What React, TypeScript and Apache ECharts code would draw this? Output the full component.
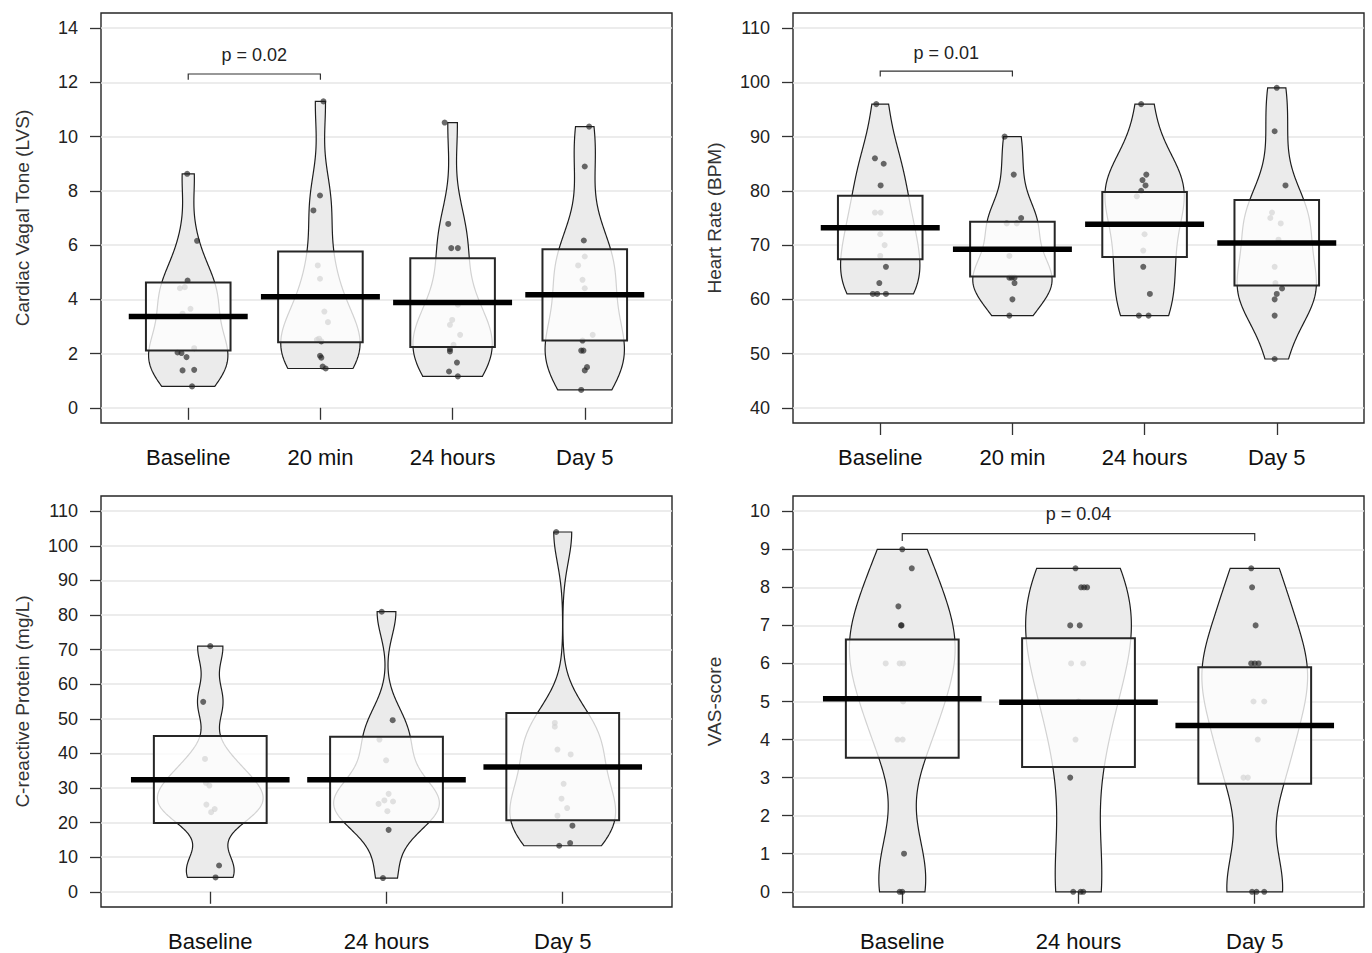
import React, { useEffect, useRef } from "react";
import * as echarts from "echarts";

const FONT = "'Liberation Sans', Arial, Helvetica, sans-serif";

// ---------- categories ----------
const catsFour = ["Baseline", "20 min", "24 hours", "Day 5"];
const catsThree = ["Baseline", "24 hours", "Day 5"];

// ---------- Panel A: Cardiac Vagal Tone (LVS) ----------
const cvtTicks = [0, 2, 4, 6, 8, 10, 12, 14];
const cvtBaseline = [8.63, 6.16, 4.69, 4.41, 4.45, 3.65, 3.47, 2.2, 2.04, 2.02, 1.87, 1.38, 1.4, 0.79];
const cvtBaselineJit = [-0.008, 0.067, -0.005, -0.063, -0.026, 0.017, -0.043, 0.045, -0.081, -0.051, -0.013, -0.043, 0.045, 0.029];
const cvt20min = [11.3, 7.83, 7.28, 5.25, 4.76, 3.55, 3.16, 2.55, 2.51, 2.45, 1.92, 1.85, 1.52, 1.45];
const cvt20minJit = [0.023, -0.003, -0.053, -0.02, -0.003, 0.03, 0.057, -0.01, -0.027, 0.007, -0.003, 0.007, 0.017, 0.04];
const cvt24h = [10.52, 6.78, 5.89, 5.89, 3.8, 3.24, 3.06, 2.69, 2.32, 2.16, 2.08, 1.67, 1.34, 1.16];
const cvt24hJit = [-0.06, -0.033, -0.01, 0.04, 0.04, -0.003, -0.02, 0.057, 0.007, -0.02, -0.02, 0.033, -0.027, 0.04];
const cvtDay5 = [10.37, 8.9, 6.17, 5.58, 5.25, 4.72, 4.41, 2.69, 2.48, 2.11, 2.11, 1.5, 1.38, 0.66];
const cvtDay5Jit = [0.033, 0, -0.007, 0, -0.05, -0.017, 0, 0.06, -0.017, -0.027, -0.01, 0.017, 0, -0.027];
const cvtMean = [3.37, 4.1, 3.88, 4.17];
const cvtLower = [2.11, 2.42, 2.24, 2.48];
const cvtUpper = [4.62, 5.76, 5.52, 5.85];
const cvtBracket = { from: 1, to: 2, line: 12.31, foot: 12.1, label: 13.0, text: "p = 0.02" };

// ---------- Panel B: Heart Rate (BPM) ----------
const hrTicks = [40, 50, 60, 70, 80, 90, 100, 110];
const hrBaseline = [96, 86, 85, 81, 76, 76, 72, 70, 68, 66, 63, 61, 61, 61];
const hrBaselineJit = [-0.03, -0.04, 0.026, 0.003, -0.04, 0.003, 0, 0.033, 0, 0.043, -0.007, -0.056, -0.023, 0.043];
const hr20min = [90, 83, 75, 74, 74, 68, 64, 64, 64, 63, 60, 57];
const hr20minJit = [-0.059, 0.01, 0.066, -0.043, 0.033, -0.023, -0.023, -0.005, 0.016, 0.016, 0, -0.023];
const hr24h = [96, 83, 82, 81, 80, 79, 72, 69, 66, 61, 57, 57];
const hr24hJit = [-0.026, 0.013, -0.016, 0.007, -0.026, -0.059, 0, -0.01, -0.01, 0.04, -0.043, 0.03];
const hrDay5 = [99, 91, 81, 76, 75, 74, 71, 66, 63, 62, 61, 60, 57, 49];
const hrDay5Jit = [0, -0.016, 0.066, -0.036, -0.049, 0.03, 0.013, -0.016, -0.01, 0.04, 0, -0.016, -0.016, -0.016];
const hrMean = [73.2, 69.25, 73.85, 70.4];
const hrLower = [67.4, 64.2, 67.8, 62.55];
const hrUpper = [79.1, 74.3, 79.8, 78.3];
const hrBracket = { from: 1, to: 2, line: 102.1, foot: 101.1, label: 105.5, text: "p = 0.01" };

// ---------- Panel C: C-reactive Protein (mg/L) ----------
const crpTicks = [0, 10, 20, 30, 40, 50, 60, 70, 80, 90, 100, 110];
const crpBaseline = [71, 54.9, 38.4, 31.5, 30.7, 25.2, 23.9, 23.0, 7.6, 4.15];
const crpBaselineJit = [0, -0.04, -0.03, -0.025, -0.005, -0.022, 0.025, 0.005, 0.05, 0.03];
const crp24h = [80.95, 49.6, 44.0, 38.0, 28.3, 26.4, 26.1, 25.4, 23.3, 17.9, 3.96];
const crp24hJit = [-0.027, 0.035, -0.04, -0.002, 0.012, -0.012, 0.037, -0.045, 0.005, 0.012, -0.02];
const crpDay5 = [104, 48.8, 47.7, 41.1, 39.7, 31.2, 26.9, 24.2, 22.0, 19.1, 14.1, 13.3];
const crpDay5Jit = [-0.037, -0.045, -0.045, -0.03, 0.045, 0.005, -0.007, 0.025, -0.03, 0.055, 0.042, -0.02];
const crpMean = [32.4, 32.4, 36.1];
const crpLower = [19.9, 20.2, 20.65];
const crpUpper = [45.0, 44.8, 51.7];

// ---------- Panel D: VAS-score ----------
const vasTicks = [0, 1, 2, 3, 4, 5, 6, 7, 8, 9, 10];
const vasBaseline = [9, 8.5, 7.5, 7, 7, 6, 6, 6, 5, 4, 4, 1, 0, 0];
const vasBaselineJit = [0, 0.054, -0.022, -0.007, -0.004, -0.094, -0.015, 0.005, 0.005, -0.027, 0.002, 0.01, -0.015, 0];
const vas24h = [8.5, 8, 8, 8, 7, 7, 6, 6, 5, 4, 3, 0, 0, 0];
const vas24hJit = [-0.017, 0.015, 0.032, 0.049, -0.047, 0.007, -0.042, 0.027, 0, -0.017, -0.047, -0.03, 0.012, 0.027];
const vasDay5 = [8.5, 8, 7, 6, 6, 6, 5, 5, 4, 3, 3, 0, 0, 0];
const vasDay5Jit = [-0.02, -0.015, 0.005, -0.02, 0, 0.022, -0.007, 0.054, 0.017, -0.064, -0.039, -0.015, 0.01, 0.054];
const vasMean = [5.07, 4.98, 4.37];
const vasLower = [3.52, 3.28, 2.84];
const vasUpper = [6.63, 6.66, 5.9];
const vasBracket = { from: 1, to: 3, line: 9.41, foot: 9.22, label: 9.92, text: "p = 0.04" };

// ---------- density (Gaussian KDE, nrd0 bandwidth, as in the original bean plot) ----------
function quantile7(s: number[], p: number) {
  const h = (s.length - 1) * p;
  const lo = Math.floor(h);
  const hi = Math.ceil(h);
  return s[lo] + (h - lo) * (s[hi] - s[lo]);
}
function bwNrd0(x: number[]) {
  const n = x.length;
  const m = x.reduce((a, b) => a + b, 0) / n;
  const sd = Math.sqrt(x.reduce((a, b) => a + (b - m) * (b - m), 0) / (n - 1));
  const s = [...x].sort((a, b) => a - b);
  const iqr = quantile7(s, 0.75) - quantile7(s, 0.25);
  let lo = Math.min(sd, iqr / 1.34);
  if (!lo) lo = sd || Math.abs(x[0]) || 1;
  return 0.9 * lo * Math.pow(n, -0.2);
}
function violinProfile(x: number[], halfWidth: number) {
  const bw = bwNrd0(x);
  const dens = (t: number) => x.reduce((a, v) => a + Math.exp(-0.5 * ((t - v) / bw) ** 2), 0);
  const mn = Math.min(...x);
  const mx = Math.max(...x);
  let maxD = 0;
  for (let i = 0; i <= 512; i++) {
    const t = mn - 3 * bw + ((mx - mn + 6 * bw) * i) / 512;
    maxD = Math.max(maxD, dens(t));
  }
  const ys: number[] = [];
  const ws: number[] = [];
  const N = 200;
  for (let i = 0; i <= N; i++) {
    const t = mn + ((mx - mn) * i) / N;
    ys.push(t);
    ws.push((dens(t) / maxD) * halfWidth);
  }
  return { ys, ws };
}

type Panel = {
  name: string;
  cats: string[];
  ticks: number[];
  groups: number[][];
  jitter: number[][];
  mean: number[];
  lower: number[];
  upper: number[];
  bracket?: { from: number; to: number; line: number; foot: number; label: number; text: string };
  grid: { left: number; top: number; width: number; height: number };
};

const panels: Panel[] = [
  {
    name: "Cardiac Vagal Tone (LVS)",
    cats: catsFour,
    ticks: cvtTicks,
    groups: [cvtBaseline, cvt20min, cvt24h, cvtDay5],
    jitter: [cvtBaselineJit, cvt20minJit, cvt24hJit, cvtDay5Jit],
    mean: cvtMean,
    lower: cvtLower,
    upper: cvtUpper,
    bracket: cvtBracket,
    grid: { left: 101, top: 13, width: 571, height: 410 },
  },
  {
    name: "Heart Rate (BPM)",
    cats: catsFour,
    ticks: hrTicks,
    groups: [hrBaseline, hr20min, hr24h, hrDay5],
    jitter: [hrBaselineJit, hr20minJit, hr24hJit, hrDay5Jit],
    mean: hrMean,
    lower: hrLower,
    upper: hrUpper,
    bracket: hrBracket,
    grid: { left: 793, top: 13, width: 571, height: 410 },
  },
  {
    name: "C-reactive Protein (mg/L)",
    cats: catsThree,
    ticks: crpTicks,
    groups: [crpBaseline, crp24h, crpDay5],
    jitter: [crpBaselineJit, crp24hJit, crpDay5Jit],
    mean: crpMean,
    lower: crpLower,
    upper: crpUpper,
    grid: { left: 101, top: 496, width: 571, height: 411 },
  },
  {
    name: "VAS-score",
    cats: catsThree,
    ticks: vasTicks,
    groups: [vasBaseline, vas24h, vasDay5],
    jitter: [vasBaselineJit, vas24hJit, vasDay5Jit],
    mean: vasMean,
    lower: vasLower,
    upper: vasUpper,
    bracket: vasBracket,
    grid: { left: 793, top: 496, width: 571, height: 411 },
  },
];

const VIOLIN_HW = 0.3;
const BOX_HW = 0.32;
const MEAN_HW = 0.45;

function buildOption() {
  const grid: any[] = [];
  const xAxis: any[] = [];
  const yAxis: any[] = [];
  const series: any[] = [];

  panels.forEach((p, idx) => {
    const n = p.cats.length;
    const pos = p.cats.map((_, i) => i + 1);
    const lo = p.ticks[0];
    const hi = p.ticks[p.ticks.length - 1];
    const pad = 0.04 * (hi - lo);
    grid.push({
      ...p.grid,
      show: true,
      borderColor: "#262626",
      borderWidth: 1.4,
      backgroundColor: "transparent",
      containLabel: false,
    });
    xAxis.push({
      gridIndex: idx,
      type: "value",
      min: 0.5 - 0.04 * n,
      max: n + 0.5 + 0.04 * n,
      axisLine: { show: false },
      splitLine: { show: false },
      axisTick: { show: true, customValues: pos, length: 12, lineStyle: { color: "#333", width: 1.3 } },
      axisLabel: {
        customValues: pos,
        formatter: (v: number) => p.cats[Math.round(v) - 1] ?? "",
        margin: 23,
        fontSize: 22,
        color: "#111",
        fontFamily: FONT,
      },
    });
    yAxis.push({
      gridIndex: idx,
      type: "value",
      min: lo - pad,
      max: hi + pad,
      name: p.name,
      nameLocation: "middle",
      nameGap: 69,
      nameTextStyle: { fontSize: 19, color: "#333", fontFamily: FONT },
      axisLine: { show: false },
      axisTick: { show: true, customValues: p.ticks, length: 11, lineStyle: { color: "#333", width: 1.3 } },
      axisLabel: { customValues: p.ticks, margin: 23, fontSize: 18, color: "#222", fontFamily: FONT },
      splitLine: { show: true, lineStyle: { color: "#e6e6e6", width: 1.5 } },
    });

    const profiles = p.groups.map((g) => violinProfile(g, VIOLIN_HW));

    // violins
    series.push({
      type: "custom",
      xAxisIndex: idx,
      yAxisIndex: idx,
      z: 2,
      silent: true,
      data: p.mean.map((m, i) => [i + 1, m]),
      encode: { x: 0, y: 1 },
      renderItem: (params: any, api: any) => {
        const g = params.dataIndex;
        const prof = profiles[g];
        const cx = g + 1;
        const left = prof.ys.map((y, i) => api.coord([cx - prof.ws[i], y]));
        const right = prof.ys.map((y, i) => api.coord([cx + prof.ws[i], y])).reverse();
        return {
          type: "polygon",
          shape: { points: [...left, ...right] },
          style: { fill: "#ebebeb", stroke: "#1e1e1e", lineWidth: 1.2 },
        };
      },
    });

    // raw points
    const pts: number[][] = [];
    p.groups.forEach((g, gi) => {
      g.forEach((v, k) => pts.push([gi + 1 + p.jitter[gi][k], v]));
    });
    series.push({
      type: "scatter",
      xAxisIndex: idx,
      yAxisIndex: idx,
      z: 3,
      silent: true,
      symbol: "circle",
      symbolSize: 6,
      itemStyle: { color: "rgba(30,30,30,0.82)" },
      data: pts,
    });

    // inference boxes
    series.push({
      type: "custom",
      xAxisIndex: idx,
      yAxisIndex: idx,
      z: 4,
      silent: true,
      data: p.mean.map((m, i) => [i + 1, m]),
      encode: { x: 0, y: 1 },
      renderItem: (params: any, api: any) => {
        const g = params.dataIndex;
        const cx = g + 1;
        const a = api.coord([cx - BOX_HW, p.upper[g]]);
        const b = api.coord([cx + BOX_HW, p.lower[g]]);
        return {
          type: "rect",
          shape: { x: a[0], y: a[1], width: b[0] - a[0], height: b[1] - a[1] },
          style: { fill: "rgba(255,255,255,0.8)", stroke: "#262626", lineWidth: 2 },
        };
      },
    });

    // mean lines
    series.push({
      type: "custom",
      xAxisIndex: idx,
      yAxisIndex: idx,
      z: 5,
      silent: true,
      data: p.mean.map((m, i) => [i + 1, m]),
      encode: { x: 0, y: 1 },
      renderItem: (params: any, api: any) => {
        const g = params.dataIndex;
        const cx = g + 1;
        const a = api.coord([cx - MEAN_HW, p.mean[g]]);
        const b = api.coord([cx + MEAN_HW, p.mean[g]]);
        return {
          type: "line",
          shape: { x1: a[0], y1: a[1], x2: b[0], y2: b[1] },
          style: { stroke: "#000", lineWidth: 5.5 },
        };
      },
    });

    // significance bracket
    if (p.bracket) {
      const br = p.bracket;
      series.push({
        type: "custom",
        xAxisIndex: idx,
        yAxisIndex: idx,
        z: 6,
        silent: true,
        data: [[(br.from + br.to) / 2, br.line]],
        encode: { x: 0, y: 1 },
        renderItem: (params: any, api: any) => {
          const p1 = api.coord([br.from, br.foot]);
          const p2 = api.coord([br.from, br.line]);
          const p3 = api.coord([br.to, br.line]);
          const p4 = api.coord([br.to, br.foot]);
          const t = api.coord([(br.from + br.to) / 2, br.label]);
          return {
            type: "group",
            children: [
              {
                type: "polyline",
                shape: { points: [p1, p2, p3, p4] },
                style: { stroke: "#333", lineWidth: 1.2, fill: "none" },
              },
              {
                type: "text",
                x: t[0],
                y: t[1],
                style: {
                  text: br.text,
                  align: "center",
                  verticalAlign: "middle",
                  fontSize: 18,
                  fill: "#222",
                  fontFamily: FONT,
                },
              },
            ],
          };
        },
      });
    }
  });

  return {
    animation: false,
    backgroundColor: "#ffffff",
    textStyle: { fontFamily: FONT },
    grid,
    xAxis,
    yAxis,
    series,
  };
}

export default function App() {
  const ref = useRef<HTMLDivElement | null>(null);
  useEffect(() => {
    if (!ref.current) return;
    const chart = echarts.init(ref.current, undefined, { renderer: "svg" });
    chart.setOption(buildOption() as any);
    return () => chart.dispose();
  }, []);
  return (
    <div
      ref={ref}
      style={{ position: "absolute", left: 0, top: 0, width: 1372, height: 953, background: "#fff" }}
    />
  );
}
